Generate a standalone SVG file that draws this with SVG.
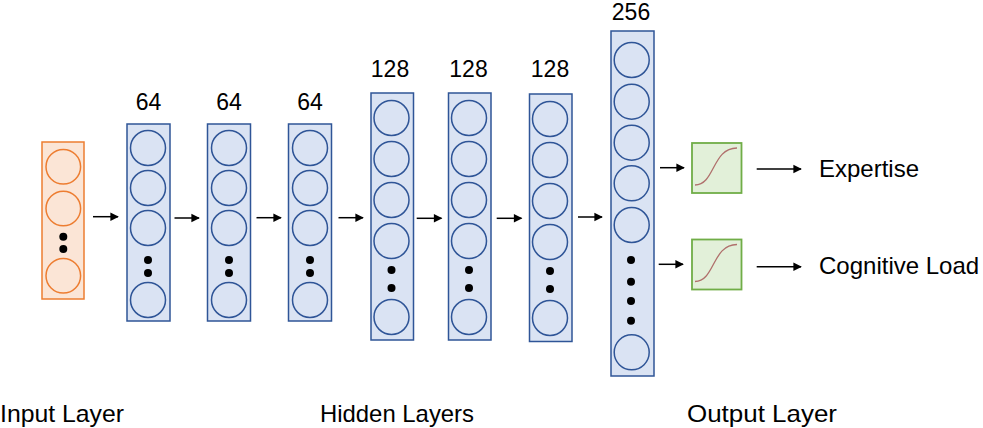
<svg xmlns="http://www.w3.org/2000/svg" width="983" height="428" viewBox="0 0 983 428">
<defs>
<style>
.blue{fill:#dae3f3;stroke:#2f5597;stroke-width:1.5}
.nb{fill:none;stroke:#2f5597;stroke-width:1.5}
.orange{fill:#fbe5d6;stroke:#ed7d31;stroke-width:1.5}
.no{fill:none;stroke:#ed7d31;stroke-width:1.5}
.green{fill:#e2f0d9;stroke:#70ad47;stroke-width:1.8}
.sig{fill:none;stroke:#b0706c;stroke-width:1.3}
.dot{fill:#000}
.lbl{font-family:"Liberation Sans",Arial,sans-serif;font-size:23px;fill:#000}
.txt{font-family:"Liberation Sans",Arial,sans-serif;font-size:24px;fill:#000}
.arr{stroke:#000;stroke-width:1.5;fill:none;marker-end:url(#ah)}
</style>
<marker id="ah" viewBox="0 0 10 10" refX="9" refY="5" markerWidth="8.5" markerHeight="8.5" markerUnits="userSpaceOnUse" orient="auto" overflow="visible">
<path d="M0,0 L10,5 L0,10 z" fill="#000"/>
</marker>
</defs>
<rect width="983" height="428" fill="#fff"/>

<g id="input">
<rect class="orange" x="42" y="142" width="42" height="157"/>
<circle class="no" cx="63.3" cy="166.7" r="17.3"/>
<circle class="no" cx="63.3" cy="208.5" r="17.3"/>
<circle class="dot" cx="63.3" cy="236.7" r="4"/>
<circle class="dot" cx="63.3" cy="249" r="4"/>
<circle class="no" cx="63.3" cy="275.7" r="17.3"/>
</g>

<g id="h1">
<text class="lbl" x="148.5" y="110" text-anchor="middle">64</text>
<rect class="blue" x="127" y="124" width="43" height="197"/>
<circle class="nb" cx="148" cy="148" r="17.5"/>
<circle class="nb" cx="148" cy="188" r="17.5"/>
<circle class="nb" cx="148" cy="228" r="17.5"/>
<circle class="dot" cx="148" cy="260" r="4"/>
<circle class="dot" cx="148" cy="273" r="4"/>
<circle class="nb" cx="148" cy="300" r="17.5"/>
</g>

<g id="h2">
<text class="lbl" x="229" y="110" text-anchor="middle">64</text>
<rect class="blue" x="207.5" y="124" width="43" height="197"/>
<circle class="nb" cx="229" cy="148" r="17.5"/>
<circle class="nb" cx="229" cy="188" r="17.5"/>
<circle class="nb" cx="229" cy="228" r="17.5"/>
<circle class="dot" cx="229" cy="260" r="4"/>
<circle class="dot" cx="229" cy="273" r="4"/>
<circle class="nb" cx="229" cy="300" r="17.5"/>
</g>

<g id="h3">
<text class="lbl" x="310" y="110" text-anchor="middle">64</text>
<rect class="blue" x="288.5" y="124" width="43" height="197"/>
<circle class="nb" cx="310" cy="148" r="17.5"/>
<circle class="nb" cx="310" cy="188" r="17.5"/>
<circle class="nb" cx="310" cy="228" r="17.5"/>
<circle class="dot" cx="310" cy="260" r="4"/>
<circle class="dot" cx="310" cy="273" r="4"/>
<circle class="nb" cx="310" cy="300" r="17.5"/>
</g>

<g id="h4">
<text class="lbl" x="390" y="77" text-anchor="middle">128</text>
<rect class="blue" x="371" y="93" width="42.5" height="247"/>
<circle class="nb" cx="391.5" cy="118" r="17.5"/>
<circle class="nb" cx="391.5" cy="159" r="17.5"/>
<circle class="nb" cx="391.5" cy="200" r="17.5"/>
<circle class="nb" cx="391.5" cy="241" r="17.5"/>
<circle class="dot" cx="391.5" cy="270" r="4"/>
<circle class="dot" cx="391.5" cy="288" r="4"/>
<circle class="nb" cx="391.5" cy="317" r="17.5"/>
</g>

<g id="h5">
<text class="lbl" x="468.5" y="77" text-anchor="middle">128</text>
<rect class="blue" x="448.5" y="93" width="42.5" height="247"/>
<circle class="nb" cx="469" cy="118" r="17.5"/>
<circle class="nb" cx="469" cy="159" r="17.5"/>
<circle class="nb" cx="469" cy="200" r="17.5"/>
<circle class="nb" cx="469" cy="241" r="17.5"/>
<circle class="dot" cx="469" cy="270" r="4"/>
<circle class="dot" cx="469" cy="288" r="4"/>
<circle class="nb" cx="469" cy="317" r="17.5"/>
</g>

<g id="h6">
<text class="lbl" x="550" y="77" text-anchor="middle">128</text>
<rect class="blue" x="529.5" y="94" width="42.5" height="247.5"/>
<circle class="nb" cx="550" cy="119" r="17.5"/>
<circle class="nb" cx="550" cy="160" r="17.5"/>
<circle class="nb" cx="550" cy="201" r="17.5"/>
<circle class="nb" cx="550" cy="242" r="17.5"/>
<circle class="dot" cx="550" cy="271" r="4"/>
<circle class="dot" cx="550" cy="289" r="4"/>
<circle class="nb" cx="550" cy="318" r="17.5"/>
</g>

<g id="h7">
<text class="lbl" x="631" y="19.5" text-anchor="middle">256</text>
<rect class="blue" x="611" y="31" width="43" height="345"/>
<circle class="nb" cx="631.7" cy="60" r="17.5"/>
<circle class="nb" cx="631.7" cy="101.7" r="17.5"/>
<circle class="nb" cx="631.7" cy="142.7" r="17.5"/>
<circle class="nb" cx="631.7" cy="183.3" r="17.5"/>
<circle class="nb" cx="631.7" cy="225" r="17.5"/>
<circle class="dot" cx="631" cy="260" r="4"/>
<circle class="dot" cx="631" cy="281.7" r="4"/>
<circle class="dot" cx="631" cy="301" r="4"/>
<circle class="dot" cx="631" cy="320.7" r="4"/>
<circle class="nb" cx="631.7" cy="352.3" r="17.5"/>
</g>

<g id="out1">
<rect class="green" x="692" y="143" width="49.5" height="50"/>
<path class="sig" d="M695,185 C715,185 712,148 737,148"/>
</g>
<g id="out2">
<rect class="green" x="692" y="239.5" width="49.5" height="50"/>
<path class="sig" d="M695,281.5 C715,281.5 712,244.5 737,244.5"/>
</g>

<g id="connectors">
<line class="arr" x1="93" y1="216.7" x2="118" y2="216.7"/>
<line class="arr" x1="174.5" y1="218" x2="199" y2="218"/>
<line class="arr" x1="256.5" y1="217.7" x2="281" y2="217.7"/>
<line class="arr" x1="338.5" y1="217.7" x2="363" y2="217.7"/>
<line class="arr" x1="416.7" y1="218.3" x2="441.5" y2="218.3"/>
<line class="arr" x1="496.7" y1="218.3" x2="521.5" y2="218.3"/>
<line class="arr" x1="578" y1="217" x2="602" y2="217"/>
<line class="arr" x1="660" y1="167.7" x2="684" y2="167.7"/>
<line class="arr" x1="658.7" y1="264.3" x2="683" y2="264.3"/>
<line class="arr" x1="756.7" y1="169" x2="801" y2="169"/>
<line class="arr" x1="756.7" y1="266.7" x2="801" y2="266.7"/>
</g>

<g id="labels">
<text class="txt" x="819" y="177">Expertise</text>
<text class="txt" x="819" y="274">Cognitive Load</text>
<text class="txt" x="0" y="422" textLength="124" lengthAdjust="spacingAndGlyphs">Input Layer</text>
<text class="txt" x="320" y="422" textLength="154" lengthAdjust="spacingAndGlyphs">Hidden Layers</text>
<text class="txt" x="687" y="422" textLength="150" lengthAdjust="spacingAndGlyphs">Output Layer</text>
</g>
</svg>
